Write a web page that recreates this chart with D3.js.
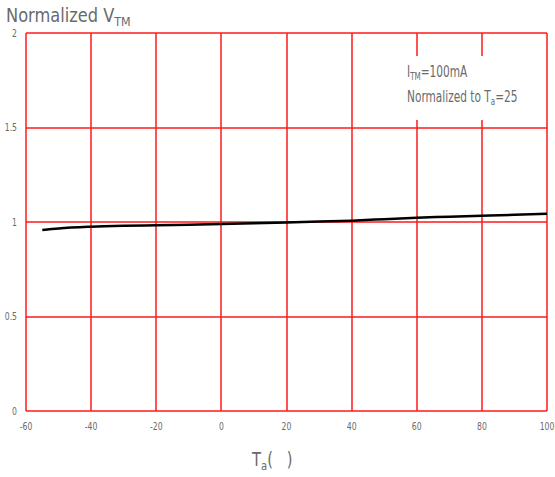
<!DOCTYPE html>
<html lang="en">

<head>
  <meta charset="utf-8">
  <script src="https://d3js.org/d3.v7.min.js"></script>
  <style>
    body {
      margin: 0;
      background: #fff;
    }

    text {
      font-family: "DejaVu Sans Condensed", "Liberation Sans Narrow", sans-serif;
      fill: #6a6a6a;
      white-space: pre;
    }
  </style>
</head>

<body>
  <svg width="555" height="477"></svg>
  <script>
    // temperature (deg C) and normalized V_TM
    const temps = [-55, -50, -40, -30, -20, -10, 0, 10, 20, 30, 40, 50, 60, 70, 80, 90, 100];
    const vtm = [0.958, 0.966, 0.975, 0.980, 0.983, 0.986, 0.989, 0.993, 0.997, 1.002, 1.007, 1.015, 1.023, 1.028, 1.033, 1.038, 1.044];

    const xTicks = [-60, -40, -20, 0, 20, 40, 60, 80, 100];
    const yTicks = [0, 0.5, 1, 1.5, 2];

    const svg = d3.select("svg");
    const mLeft = 26, mRight = 547, mTop = 33, mBottom = 411;

    const x = d3.scaleLinear().domain([-60, 100]).range([mLeft, mRight]);
    const y = d3.scaleLinear().domain([0, 2]).range([mBottom, mTop]);

    const grid = svg.append("g")
      .attr("stroke", "#ff1a1a")
      .attr("stroke-width", 1.5);

    grid.selectAll(".vx")
      .data(xTicks)
      .join("line")
      .attr("x1", d => Math.round(x(d))).attr("x2", d => Math.round(x(d)))
      .attr("y1", mTop).attr("y2", mBottom);

    grid.selectAll(".hy")
      .data(yTicks)
      .join("line")
      .attr("x1", mLeft).attr("x2", mRight)
      .attr("y1", d => Math.round(y(d))).attr("y2", d => Math.round(y(d)));

    // tick labels (narrow face, squeezed horizontally)
    svg.append("g").selectAll("text")
      .data(xTicks)
      .join("text")
      .attr("transform", d => `translate(${x(d)},430) scale(0.78,1)`)
      .attr("text-anchor", "middle")
      .attr("font-size", 11)
      .text(d => d);

    svg.append("g").selectAll("text")
      .data(yTicks)
      .join("text")
      .attr("transform", d => `translate(17,${y(d) + 3.5}) scale(0.78,1)`)
      .attr("text-anchor", "end")
      .attr("font-size", 11)
      .text(d => d);

    // curve
    const line = d3.line()
      .x((d, i) => x(temps[i]))
      .y(d => y(d))
      .curve(d3.curveMonotoneX);

    svg.append("path")
      .datum(vtm)
      .attr("d", line)
      .attr("fill", "none")
      .attr("stroke", "#000")
      .attr("stroke-width", 2.5);

    // annotation box
    svg.append("rect")
      .attr("x", 398).attr("y", 56)
      .attr("width", 128).attr("height", 64)
      .attr("fill", "#fff");

    const note1 = svg.append("text")
      .attr("transform", "translate(407,77) scale(0.76,1)")
      .attr("font-size", 15.5);
    note1.append("tspan").text("I");
    note1.append("tspan").attr("font-size", 10.5).attr("dy", 3).text("TM");
    note1.append("tspan").attr("dy", -3).text("=100mA");

    const note2 = svg.append("text")
      .attr("transform", "translate(407,102) scale(0.76,1)")
      .attr("font-size", 15.5);
    note2.append("tspan").text("Normalized to T");
    note2.append("tspan").attr("font-size", 10.5).attr("dy", 3).text("a");
    note2.append("tspan").attr("dy", -3).text("=25");

    // axis titles
    const yt = svg.append("text")
      .attr("transform", "translate(6,22) scale(0.95,1)")
      .attr("font-size", 19);
    yt.append("tspan").text("Normalized V");
    yt.append("tspan").attr("font-size", 13).attr("dy", 4).text("TM");

    const xt = svg.append("text")
      .attr("transform", "translate(252,466) scale(0.86,1)")
      .attr("font-size", 19);
    xt.append("tspan").text("T");
    xt.append("tspan").attr("font-size", 13).attr("dy", 4).text("a");
    xt.append("tspan").attr("dy", -4).text("(   )");
  </script>
</body>

</html>
